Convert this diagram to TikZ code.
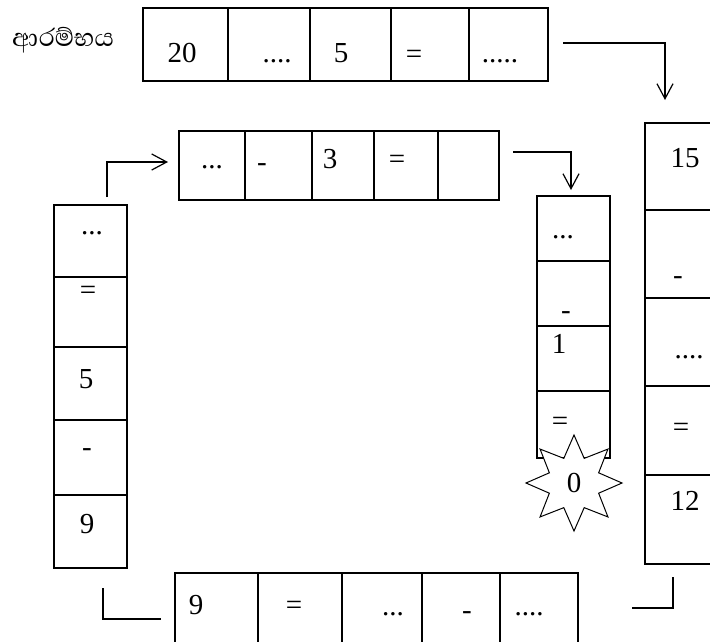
\documentclass[tikz,border=0pt]{standalone}
\usepackage{fontspec}
\setmainfont{Liberation Serif}
\newfontfamily\sinhalafont[Script=Sinhala]{Abhaya Libre}
\usetikzlibrary{arrows.meta,fit,shapes.geometric}
\tikzset{
  cell/.style={draw, line width=2pt, inner sep=0pt, rectangle},
  txt/.style={anchor=base, inner sep=0pt, font=\fontsize{29}{30}\selectfont},
  conn/.style={line width=2pt},
  arr/.style={line width=2pt, -{Straight Barb[length=15pt,width=16pt,line width=1.2pt]}},
  burst/.style={star, star points=8, star point ratio=1.8, minimum size=96pt, inner sep=0pt, draw, fill=white, line width=1pt, font=\fontsize{29}{30}\selectfont}
}
\begin{document}
\begin{tikzpicture}[x=1pt,y=-1pt]
\useasboundingbox (0,0) rectangle (710,641);
\clip (0,0) rectangle (710,641);
\fill[white] (0,0) rectangle (710,641);
% label
\node[anchor=west, inner sep=0pt, font=\sinhalafont\fontsize{32}{34}\selectfont] (start) at (12,40) {ආරම්භය};
% top row
\node[cell, fit={(143,8) (228,81)}] (t1) {};
\node[cell, fit={(228,8) (310,81)}] (t2) {};
\node[cell, fit={(310,8) (391,81)}] (t3) {};
\node[cell, fit={(391,8) (469,81)}] (t4) {};
\node[cell, fit={(469,8) (548,81)}] (t5) {};
\node[txt] (t1t) at (182,62) {20};
\node[txt] (t2t) at (277,62) {....};
\node[txt] (t3t) at (341,62) {5};
\node[txt] (t4t) at (414,63) {=};
\node[txt] (t5t) at (500,62) {.....};
% right column
\node[cell, fit={(645,123) (730,210)}] (r1) {};
\node[cell, fit={(645,210) (730,298)}] (r2) {};
\node[cell, fit={(645,298) (730,386)}] (r3) {};
\node[cell, fit={(645,386) (730,475)}] (r4) {};
\node[cell, fit={(645,475) (730,564)}] (r5) {};
\node[txt] (r1t) at (685,167) {15};
\node[txt] (r2t) at (678,284) {-};
\node[txt] (r3t) at (689,358) {....};
\node[txt] (r4t) at (681,436) {=};
\node[txt] (r5t) at (685,510) {12};
% middle row
\node[cell, fit={(179,131) (245,200)}] (m1) {};
\node[cell, fit={(245,131) (312,200)}] (m2) {};
\node[cell, fit={(312,131) (374,200)}] (m3) {};
\node[cell, fit={(374,131) (438,200)}] (m4) {};
\node[cell, fit={(438,131) (499,200)}] (m5) {};
\node[txt] (m1t) at (212,168) {...};
\node[txt] (m2t) at (262,171) {-};
\node[txt] (m3t) at (330,168) {3};
\node[txt] (m4t) at (397,168) {=};
% middle column
\node[cell, fit={(537,196) (610,261)}] (c1) {};
\node[cell, fit={(537,261) (610,326)}] (c2) {};
\node[cell, fit={(537,326) (610,391)}] (c3) {};
\node[cell, fit={(537,391) (610,458)}] (c4) {};
\node[txt] (c1t) at (563,238) {...};
\node[txt] (c2t) at (566,319) {-};
\node[txt] (c3t) at (559,353) {1};
\node[txt] (c4t) at (560,430) {=};
\node[burst] (zero) at (574,483) {0};
% left column
\node[cell, fit={(54,205) (127,277)}] (l1) {};
\node[cell, fit={(54,277) (127,347)}] (l2) {};
\node[cell, fit={(54,347) (127,420)}] (l3) {};
\node[cell, fit={(54,420) (127,495)}] (l4) {};
\node[cell, fit={(54,495) (127,568)}] (l5) {};
\node[txt] (l1t) at (92,234) {...};
\node[txt] (l2t) at (88,299) {=};
\node[txt] (l3t) at (86,388) {5};
\node[txt] (l4t) at (87,456) {-};
\node[txt] (l5t) at (87,533) {9};
% bottom row
\node[cell, fit={(175,573) (258,660)}] (b1) {};
\node[cell, fit={(258,573) (342,660)}] (b2) {};
\node[cell, fit={(342,573) (422,660)}] (b3) {};
\node[cell, fit={(422,573) (500,660)}] (b4) {};
\node[cell, fit={(500,573) (578,660)}] (b5) {};
\node[txt] (b1t) at (196,614) {9};
\node[txt] (b2t) at (294,614) {=};
\node[txt] (b3t) at (393,615) {...};
\node[txt] (b4t) at (467,619) {-};
\node[txt] (b5t) at (529,615) {....};
% connectors
\coordinate (a1s) at (563,43);
\coordinate (a1e) at (665,100);
\draw[arr] (a1s) -| (a1e);
\coordinate (a2s) at (513,152);
\coordinate (a2e) at (571,190);
\draw[arr] (a2s) -| (a2e);
\coordinate (a3s) at (107,197);
\coordinate (a3e) at (168,162);
\draw[arr] (a3s) |- (a3e);
\coordinate (a4s) at (103,588);
\coordinate (a4e) at (161,619);
\draw[conn] (a4s) |- (a4e);
\coordinate (a5s) at (632,608);
\coordinate (a5e) at (673,577);
\draw[conn] (a5s) -| (a5e);
\end{tikzpicture}
\end{document}
